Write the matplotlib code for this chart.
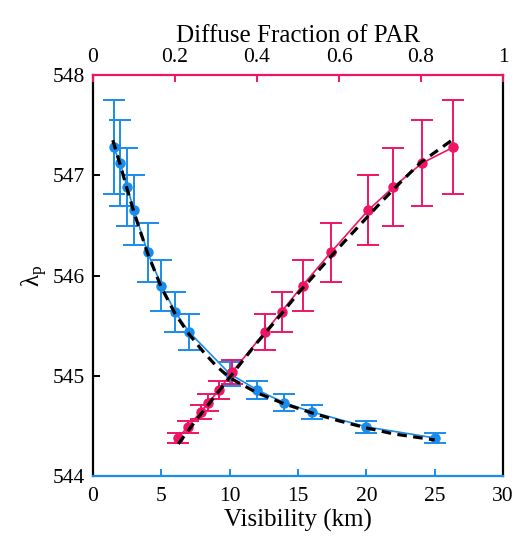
import matplotlib
matplotlib.use("Agg")
import matplotlib.pyplot as plt
import numpy as np

plt.rcParams['font.family'] = ['Liberation Serif', 'DejaVu Serif']
plt.rcParams['mathtext.fontset'] = 'custom'
plt.rcParams['mathtext.rm'] = 'Liberation Serif'
plt.rcParams['mathtext.it'] = 'Liberation Serif:italic'

blue_c = '#1A8CEB'
pink_c = '#EE1466'

# visibility series (bottom axis)
vis_km = [1.5, 2, 2.5, 3, 4, 5, 6, 7, 10, 12, 14, 16, 20, 25]
vis_lam = [547.28, 547.12, 546.88, 546.65, 546.23, 545.90, 545.64, 545.44,
           545.02, 544.86, 544.73, 544.64, 544.49, 544.38]
vis_err = [0.47, 0.43, 0.39, 0.35, 0.29, 0.25, 0.20, 0.18,
           0.12, 0.09, 0.085, 0.07, 0.06, 0.05]

# diffuse fraction series (top axis)
dif_frac = [0.208, 0.231, 0.263, 0.281, 0.308, 0.340, 0.420, 0.460,
            0.511, 0.580, 0.671, 0.732, 0.802, 0.879]
dif_lam = [544.38, 544.49, 544.64, 544.73, 544.86, 545.04, 545.44, 545.64,
           545.90, 546.23, 546.65, 546.88, 547.12, 547.28]
dif_err = [0.05, 0.06, 0.07, 0.085, 0.09, 0.12, 0.18, 0.20,
           0.25, 0.29, 0.35, 0.39, 0.43, 0.47]

# fitted curves
fit_vis_x = [1.45, 2, 2.5, 3, 4, 5, 6, 7, 8, 9, 10, 12, 14, 16, 18, 20, 22, 25]
fit_vis_y = [547.35, 547.10, 546.86, 546.63, 546.22, 545.88, 545.62, 545.42,
             545.25, 545.10, 544.98, 544.83, 544.72, 544.63, 544.55, 544.48,
             544.42, 544.36]
fit_dif_x = [0.208, 0.25, 0.30, 0.35, 0.40, 0.45, 0.50, 0.55, 0.60, 0.65,
             0.70, 0.75, 0.80, 0.879]
fit_dif_y = [544.32, 544.55, 544.81, 545.07, 545.33, 545.57, 545.82, 546.05,
             546.28, 546.50, 546.72, 546.93, 547.13, 547.36]

fig = plt.figure(figsize=(5.15, 5.4), dpi=100)
ax = fig.add_axes([0.1806, 0.1185, 0.7961, 0.7426])
ax2 = ax.twiny()

ax.errorbar(vis_km, vis_lam, yerr=vis_err, color=blue_c, marker='o', ms=6.5,
            lw=1.2, elinewidth=1.4, capsize=7.7, capthick=1.4, zorder=2)
ax2.errorbar(dif_frac, dif_lam, yerr=dif_err, color=pink_c, marker='o', ms=6.5,
             lw=1.2, elinewidth=1.4, capsize=7.7, capthick=1.4, zorder=2)
# blue fit drawn on the top axes so it sits above both series
ax2.plot([v / 30 for v in fit_vis_x], fit_vis_y, color='k',
         ls=(0, (3, 2)), lw=2.3, zorder=3)
ax2.plot(fit_dif_x, fit_dif_y, color='k', ls=(0, (3, 2)), lw=2.3, zorder=3)

ax.set_xlim(0, 30)
ax.set_ylim(544, 548)
ax2.set_xlim(0, 1)
ax.set_xticks([0, 5, 10, 15, 20, 25, 30])
ax.set_yticks([544, 545, 546, 547, 548])
ax2.set_xticks([0, 0.2, 0.4, 0.6, 0.8, 1])
ax2.set_xticklabels(['0', '0.2', '0.4', '0.6', '0.8', '1'])

for s in ['left', 'right']:
    ax.spines[s].set_color('k')
    ax.spines[s].set_linewidth(1.6)
ax.spines['bottom'].set_color(blue_c)
ax.spines['bottom'].set_linewidth(1.6)
ax.spines['top'].set_visible(False)
ax2.spines['top'].set_color(pink_c)
ax2.spines['top'].set_linewidth(1.6)
for s in ['bottom', 'left', 'right']:
    ax2.spines[s].set_visible(False)

ax.tick_params(axis='x', direction='in', color=blue_c, length=5, width=1.4,
               labelsize=15.5, pad=8)
ax.tick_params(axis='y', direction='in', color='k', length=5, width=1.4,
               labelsize=15.5, right=False, pad=6)
ax2.tick_params(axis='x', direction='in', color=pink_c, length=5, width=1.4,
                labelsize=15.5, pad=6)

ax.set_xlabel('Visibility (km)', fontsize=18, labelpad=2)
ax2.set_xlabel('Diffuse Fraction of PAR', fontsize=18, labelpad=4)
ax.set_ylabel(r'$\mathrm{\lambda_p}$', fontsize=18, labelpad=2)

fig.savefig('out.png', dpi=100)
